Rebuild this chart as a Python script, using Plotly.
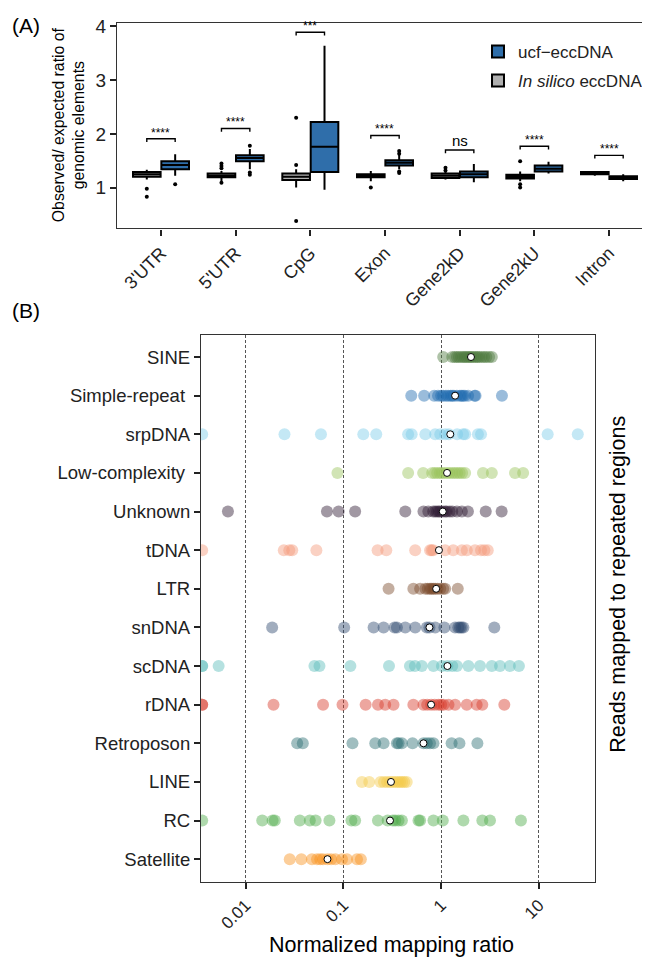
import plotly.graph_objects as go

# ---------------- Panel A data ----------------
categories = ["3'UTR", "5'UTR", "CpG", "Exon", "Gene2kD", "Gene2kU", "Intron"]

silico_q1 = [1.20, 1.19, 1.14, 1.19, 1.18, 1.17, 1.25]
silico_med = [1.25, 1.22, 1.20, 1.22, 1.22, 1.20, 1.27]
silico_q3 = [1.29, 1.26, 1.26, 1.25, 1.26, 1.24, 1.29]
silico_lo = [1.15, 1.12, 1.00, 1.12, 1.15, 1.12, 1.22]
silico_hi = [1.33, 1.31, 1.34, 1.31, 1.30, 1.30, 1.31]
silico_outliers = [[0.98, 0.83], [1.45, 1.40, 1.36, 1.09], [2.30, 1.42, 0.38], [1.00],
                   [1.37, 1.32], [1.49, 1.06, 1.00], []]

ucf_q1 = [1.34, 1.49, 1.29, 1.41, 1.19, 1.30, 1.16]
ucf_med = [1.42, 1.55, 1.76, 1.46, 1.25, 1.35, 1.19]
ucf_q3 = [1.49, 1.60, 2.22, 1.51, 1.30, 1.41, 1.21]
ucf_lo = [1.22, 1.34, 0.96, 1.34, 1.10, 1.26, 1.12]
ucf_hi = [1.62, 1.72, 3.64, 1.61, 1.44, 1.48, 1.25]
ucf_outliers = [[1.06], [1.78, 1.28, 1.24], [], [1.68, 1.63, 1.30, 1.27], [], [], []]

bracket_y = [1.91, 2.10, 3.89, 1.97, 1.70, 1.77, 1.60]
sig_labels = ["****", "****", "***", "****", "ns", "****", "****"]

# ---------------- Panel B data ----------------
repeat_names = ["SINE", "Simple-repeat ", "srpDNA", "Low-complexity ", "Unknown", "tDNA", "LTR",
                "snDNA", "scDNA", "rDNA", "Retroposon", "LINE", "RC", "Satellite"]

sine_vals = [1.05, 1.3, 1.38, 1.45, 1.52, 1.6, 1.68, 1.75, 1.82, 1.9, 1.98, 2.05, 2.15, 2.25,
             2.35, 2.45, 2.6, 2.75, 2.9, 3.1, 3.3]
simple_vals = [0.495, 0.67, 0.85, 0.93, 1.0, 1.05, 1.12, 1.18, 1.25, 1.3, 1.35, 1.45, 1.56,
               1.62, 1.68, 1.75, 1.89, 2.2, 2.25, 4.19]
srp_vals = [0.0036, 0.025, 0.059, 0.16, 0.217, 0.46, 0.5, 0.69, 0.87, 0.98, 1.1, 1.2, 1.46,
            1.68, 1.76, 2.38, 2.56, 12.3, 25.0]
lowc_vals = [0.087, 0.46, 0.655, 0.81, 0.86, 0.91, 0.97, 1.02, 1.08, 1.15, 1.22, 1.3, 1.38,
             1.46, 1.55, 1.64, 1.76, 2.68, 3.3, 5.7, 6.9]
unknown_vals = [0.0066, 0.068, 0.0895, 0.132, 0.43, 0.66, 0.74, 0.83, 0.87, 0.91, 0.95, 0.98,
                1.04, 1.1, 1.14, 1.22, 1.3, 1.45, 1.63, 1.88, 2.86, 4.16]
tdna_vals = [0.0036, 0.0246, 0.028, 0.030, 0.053, 0.224, 0.275, 0.543, 0.77, 0.8, 0.83, 1.1,
             1.33, 1.63, 1.83, 2.22, 2.56, 2.77, 3.0]
ltr_vals = [0.29, 0.52, 0.61, 0.69, 0.73, 0.77, 0.8, 0.835, 0.87, 0.92, 0.98, 1.05, 1.1, 1.48]
sndna_vals = [0.0187, 0.102, 0.204, 0.258, 0.334, 0.353, 0.43, 0.543, 0.714, 0.76, 0.87, 1.08,
              1.39, 1.5, 1.56, 1.62, 1.69, 3.5]
scdna_vals = [0.0036, 0.0036, 0.0053, 0.0506, 0.057, 0.118, 0.293, 0.48, 0.54, 0.635, 0.835,
              1.02, 1.16, 1.3, 1.45, 1.9, 2.5, 3.3, 4.0, 5.05, 6.25]
rdna_vals = [0.0036, 0.0036, 0.0193, 0.062, 0.098, 0.169, 0.226, 0.268, 0.326, 0.52, 0.66,
             0.72, 0.79, 0.86, 0.94, 1.0, 1.06, 1.19, 1.39, 1.83, 2.31, 2.64, 4.43]
retro_vals = [0.0337, 0.0385, 0.124, 0.212, 0.258, 0.353, 0.367, 0.397, 0.51, 0.66, 0.714,
              0.77, 0.835, 1.28, 1.54, 2.35]
line_vals = [0.155, 0.184, 0.24, 0.26, 0.28, 0.30, 0.32, 0.34, 0.36, 0.38, 0.40, 0.42, 0.445]
rc_vals = [0.0036, 0.0148, 0.0189, 0.0199, 0.0359, 0.0454, 0.052, 0.072, 0.121, 0.132, 0.226,
           0.284, 0.32, 0.34, 0.367, 0.397, 0.587, 0.61, 0.835, 1.04, 1.69, 2.64, 3.16, 6.55]
sat_vals = [0.0283, 0.0372, 0.0477, 0.0538, 0.058, 0.062, 0.0688, 0.075, 0.0829, 0.097, 0.109,
            0.138, 0.151]

repeat_values = [sine_vals, simple_vals, srp_vals, lowc_vals, unknown_vals, tdna_vals, ltr_vals,
                 sndna_vals, scdna_vals, rdna_vals, retro_vals, line_vals, rc_vals, sat_vals]
repeat_centers = [2.02, 1.39, 1.24, 1.15, 1.04, 0.95, 0.89, 0.76, 1.16, 0.79, 0.66, 0.307, 0.30, 0.0688]
repeat_colors = ["#4d7a3d", "#1f6bb0", "#7dcde9", "#98c45a", "#2f1b33", "#f39a7a", "#7a4a2a",
                 "#2e4a6e", "#5bbcbb", "#d73a2a", "#2c6f73", "#f3c94a", "#4daa4a", "#f8931f"]

# ---------------- Figure ----------------
PAGE_OFF = 8  # default page body margin
W, H = 650 - PAGE_OFF, 959 - PAGE_OFF


def fx(p):
    return (p - PAGE_OFF) / W


def fy(p):
    return 1 - (p - PAGE_OFF) / H


FONT = "Arial, 'Liberation Sans', sans-serif"
BLUE = "#2f6eaa"
GRAY = "#b0b0b0"
OFF = 0.19
BW = 0.37

fig = go.Figure()

fig.add_trace(go.Box(
    x=[i + OFF for i in range(len(categories))], q1=ucf_q1, median=ucf_med, q3=ucf_q3,
    lowerfence=ucf_lo, upperfence=ucf_hi, width=BW, whiskerwidth=0,
    fillcolor=BLUE, line=dict(color="black", width=2), name="ucf\u2212eccDNA",
    boxpoints=False, xaxis="x", yaxis="y", legendgroup="a", hoverinfo="skip"))
fig.add_trace(go.Box(
    x=[i - OFF for i in range(len(categories))], q1=silico_q1, median=silico_med, q3=silico_q3,
    lowerfence=silico_lo, upperfence=silico_hi, width=BW, whiskerwidth=0,
    fillcolor=GRAY, line=dict(color="black", width=2), name="<i>In silico</i> eccDNA",
    boxpoints=False, xaxis="x", yaxis="y", legendgroup="b", hoverinfo="skip"))

ox, oy = [], []
for i, outs in enumerate(silico_outliers):
    for v in outs:
        ox.append(i - OFF); oy.append(v)
for i, outs in enumerate(ucf_outliers):
    for v in outs:
        ox.append(i + OFF); oy.append(v)
fig.add_trace(go.Scatter(x=ox, y=oy, mode="markers", marker=dict(color="black", size=4),
                         showlegend=False, xaxis="x", yaxis="y", hoverinfo="skip"))

shapes = []
annotations = []
for i, (by, lab) in enumerate(zip(bracket_y, sig_labels)):
    shapes.append(dict(type="path", xref="x", yref="y",
                       path=f"M {i-OFF} {by-0.06} L {i-OFF} {by} L {i+OFF} {by} L {i+OFF} {by-0.06}",
                       line=dict(color="black", width=1.4)))
    annotations.append(dict(x=i, y=by, xref="x", yref="y", text=lab, showarrow=False,
                            yanchor="bottom", yshift=-3 if lab != "ns" else -1,
                            font=dict(size=12 if lab != "ns" else 15, color="black", family=FONT)))

for name, vals, col in zip(repeat_names, repeat_values, repeat_colors):
    fig.add_trace(go.Scatter(x=vals, y=[name] * len(vals), mode="markers",
                             marker=dict(color=col, size=12, opacity=0.45, line=dict(width=0)),
                             showlegend=False, xaxis="x2", yaxis="y2", hoverinfo="skip"))
fig.add_trace(go.Scatter(x=repeat_centers, y=repeat_names, mode="markers",
                         marker=dict(color="white", size=7, line=dict(color="black", width=1)),
                         showlegend=False, xaxis="x2", yaxis="y2", hoverinfo="skip"))

annotations += [
    dict(x=fx(10), y=fy(19), xref="paper", yref="paper", text="(A)", showarrow=False,
         xanchor="left", yanchor="middle", font=dict(size=21, color="black", family=FONT)),
    dict(x=fx(10), y=fy(306), xref="paper", yref="paper", text="(B)", showarrow=False,
         xanchor="left", yanchor="middle", font=dict(size=21, color="black", family=FONT)),
    dict(x=fx(69), y=fy(119), xref="paper", yref="paper",
         text="Observed/ expected ratio of<br>genomic elements", showarrow=False, textangle=-90,
         xanchor="center", yanchor="middle", font=dict(size=15.8, color="black", family=FONT)),
    dict(x=fx(618), y=fy(582), xref="paper", yref="paper",
         text="Reads mapped to repeated regions", showarrow=False, textangle=-90,
         xanchor="center", yanchor="middle", font=dict(size=21.5, color="black", family=FONT)),
    dict(x=fx(392), y=fy(945), xref="paper", yref="paper",
         text="Normalized mapping ratio", showarrow=False,
         xanchor="center", yanchor="middle", font=dict(size=21.5, color="black", family=FONT)),
]

axis_line = dict(showline=True, linecolor="#333333", linewidth=1.2, ticks="outside",
                 ticklen=6, tickwidth=1.5, tickcolor="#222222", zeroline=False, showgrid=False)

fig.update_layout(
    width=W, height=H, margin=dict(l=0, r=0, t=0, b=0),
    paper_bgcolor="white", plot_bgcolor="white",
    font=dict(family=FONT, color="black"),
    shapes=shapes, annotations=annotations,
    xaxis=dict(domain=[fx(117), 1.0], range=[-0.589, 6.549], tickvals=list(range(len(categories))),
               ticktext=categories, tickangle=-45, mirror=True, anchor="y",
               tickfont=dict(size=18, color="#222"), **axis_line),
    yaxis=dict(domain=[fy(223), fy(15.7)], range=[0.24, 4.07], tickvals=[1, 2, 3, 4],
               anchor="x", tickfont=dict(size=19, color="#222"), **axis_line),
    xaxis2=dict(domain=[fx(201), fx(595)], type="log", range=[-2.456, 1.574],
                tickvals=[0.01, 0.1, 1, 10], ticktext=["0.01", "0.1", "1", "10"], tickangle=-45,
                anchor="y2", mirror=True, showline=True, linecolor="#333333", linewidth=1.2,
                ticks="outside", ticklen=6, tickwidth=1.5, tickcolor="#222222", zeroline=False,
                showgrid=True, gridcolor="#555555", gridwidth=1, griddash="3px,2px",
                tickfont=dict(size=17, color="#222")),
    yaxis2=dict(domain=[fy(881), fy(330)], type="category",
                categoryorder="array", categoryarray=repeat_names,
                range=[13.58, -0.58], anchor="x2", mirror=True,
                tickfont=dict(size=18.5, color="#222"), **axis_line),
    legend=dict(x=fx(478), y=fy(27), xanchor="left", yanchor="top",
                bgcolor="rgba(0,0,0,0)", font=dict(size=17, color="#222", family=FONT),
                tracegroupgap=4, itemwidth=30),
    showlegend=True,
)

fig.write_html("out.html")
